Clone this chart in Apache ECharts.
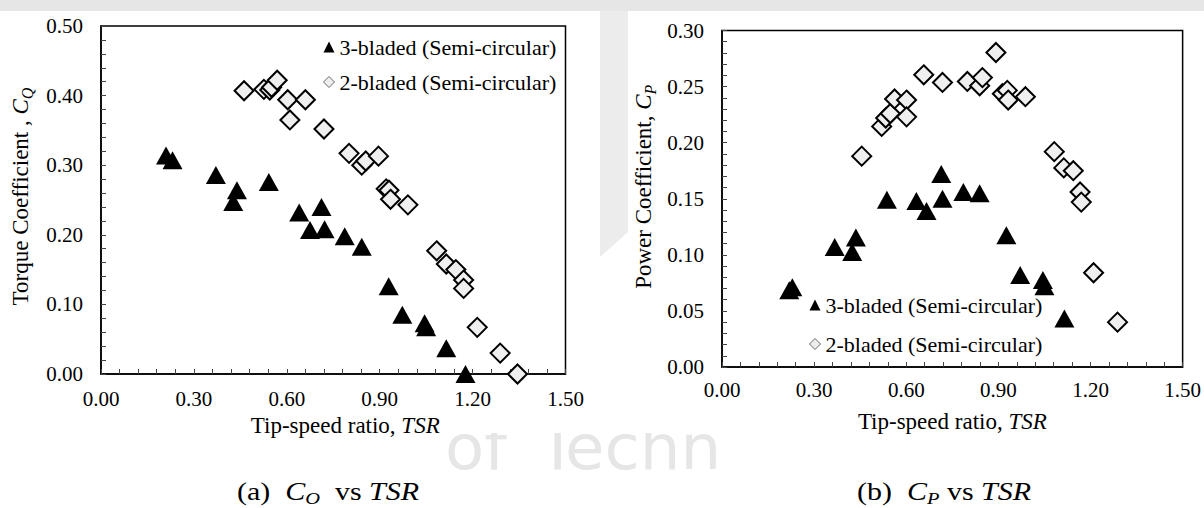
<!DOCTYPE html>
<html>
<head>
<meta charset="utf-8">
<script src="https://cdn.jsdelivr.net/npm/echarts@6/dist/echarts.min.js"></script>
<style>
  html, body { margin: 0; padding: 0; background: #fff; }
  #chart { width: 1204px; height: 508px; }
</style>
</head>
<body>
<div id="chart"></div>
<script>
// Tip-speed ratio / torque coefficient, 3-bladed rotor
const tsr3Q = [0.210, 0.231, 0.371, 0.439, 0.427, 0.542, 0.640, 0.712, 0.675, 0.722, 0.787, 0.842, 0.929, 0.973, 1.045, 1.050, 1.115, 1.177];
const cq3   = [0.314, 0.307, 0.286, 0.264, 0.247, 0.276, 0.232, 0.240, 0.207, 0.208, 0.198, 0.183, 0.126, 0.085, 0.073, 0.067, 0.037, 0.000];

// Tip-speed ratio / torque coefficient, 2-bladed rotor
const tsr2Q = [0.462, 0.526, 0.545, 0.551, 0.569, 0.603, 0.660, 0.610, 0.720, 0.801, 0.842, 0.855, 0.896, 0.921, 0.930, 0.935, 0.991, 1.084, 1.115, 1.146, 1.171, 1.171, 1.215, 1.289, 1.345];
const cq2   = [0.407, 0.409, 0.408, 0.412, 0.422, 0.394, 0.394, 0.365, 0.352, 0.317, 0.300, 0.306, 0.313, 0.266, 0.264, 0.251, 0.243, 0.177, 0.158, 0.150, 0.135, 0.123, 0.067, 0.030, 0.000];

// Tip-speed ratio / power coefficient, 3-bladed rotor
const tsr3P = [0.219, 0.229, 0.367, 0.424, 0.436, 0.537, 0.633, 0.666, 0.714, 0.718, 0.786, 0.839, 0.926, 0.971, 1.045, 1.050, 1.115];
const cp3   = [0.0685, 0.071, 0.107, 0.1026, 0.1154, 0.149, 0.148, 0.139, 0.172, 0.150, 0.156, 0.155, 0.1175, 0.082, 0.0775, 0.072, 0.0433];

// Tip-speed ratio / power coefficient, 2-bladed rotor
const tsr2P = [0.455, 0.520, 0.533, 0.548, 0.562, 0.601, 0.601, 0.657, 0.718, 0.799, 0.839, 0.848, 0.892, 0.913, 0.929, 0.932, 0.988, 1.082, 1.113, 1.144, 1.166, 1.170, 1.210, 1.288];
const cp2   = [0.188, 0.2145, 0.222, 0.226, 0.239, 0.238, 0.223, 0.2605, 0.2537, 0.2546, 0.2507, 0.258, 0.2804, 0.2436, 0.2466, 0.238, 0.241, 0.192, 0.1775, 0.175, 0.156, 0.147, 0.084, 0.040];

const xTicks = [0, 1.5, 0.3];        // min, max, interval
const yTicksQ = [0, 0.5, 0.1];
const yTicksP = [0, 0.3, 0.05];

const NAME3 = '3-bladed (Semi-circular)';
const NAME2 = '2-bladed (Semi-circular)';

const pairs = (xs, ys) => xs.map((x, i) => [x, ys[i]]);

const FONT = 'Liberation Serif';
const INK = '#000';
const FS_TICK = 21;
const FS_TITLE = 23;
const FS_LEGEND = 22;

function valueAxis(gridIndex, range, extra) {
  return Object.assign({
    type: 'value',
    gridIndex: gridIndex,
    min: range[0], max: range[1], interval: range[2],
    axisLine: { show: true, onZero: false, lineStyle: { color: INK, width: 1.5 } },
    axisTick: { show: true, inside: true, length: 5, lineStyle: { color: '#444', width: 1 } },
    minorTick: { show: true, splitNumber: 5, length: 5, lineStyle: { color: '#444', width: 1 } },
    splitLine: { show: false },
    minorSplitLine: { show: false }
  }, extra);
}

function tickLabels(margin) {
  return { color: INK, fontFamily: FONT, fontSize: FS_TICK, margin: margin, formatter: v => v.toFixed(2) };
}

const richTitle = {
  i:   { fontFamily: FONT, fontSize: FS_TITLE, fontStyle: 'italic', color: INK },
  sub: { fontFamily: FONT, fontSize: 16, fontStyle: 'italic', color: INK, padding: [13, 0, 0, 0] }
};

function titleStyle(padding) {
  return { color: INK, fontFamily: FONT, fontSize: FS_TITLE, padding: padding, rich: richTitle };
}

const richCaption = {
  r:   { fontFamily: FONT, fontSize: 25, color: INK },
  i:   { fontFamily: FONT, fontSize: 25, fontStyle: 'italic', color: INK },
  sub: { fontFamily: FONT, fontSize: 17, fontStyle: 'italic', color: INK, padding: [15, 0, 0, 0] }
};

const triStyle = { color: '#000', opacity: 1 };
const diaStyle = { color: '#efefef', borderColor: '#000', borderWidth: 2, opacity: 1 };

function legendAt(left, top, gap) {
  return {
    orient: 'vertical', left: left, top: top, padding: 0,
    itemGap: gap, itemWidth: 11, itemHeight: 11,
    selectedMode: false,
    textStyle: { color: INK, fontFamily: FONT, fontSize: FS_LEGEND },
    data: [
      { name: NAME3, icon: 'triangle', itemStyle: { color: '#000', borderWidth: 0, opacity: 1 } },
      { name: NAME2, icon: 'diamond', itemStyle: { color: '#eeeeee', borderColor: '#666', borderWidth: 1, opacity: 1 } }
    ]
  };
}

const ghost = { fontFamily: 'Liberation Sans Narrow, DejaVu Sans Condensed, sans-serif', fontSize: 62, fill: '#e6e6e6', align: 'left', verticalAlign: 'middle' };

const chart = echarts.init(document.getElementById('chart'), null, { renderer: 'svg' });

chart.setOption({
  backgroundColor: '#fff',
  animation: false,
  grid: [
    { left: 101, top: 26, width: 464.5, height: 348, show: true, borderColor: INK, borderWidth: 1.5, backgroundColor: 'transparent' },
    { left: 722, top: 30.5, width: 463.5, height: 336.5, show: true, borderColor: INK, borderWidth: 1.5, backgroundColor: 'transparent' }
  ],
  xAxis: [
    valueAxis(0, xTicks, {
      name: 'Tip-speed ratio, {i|TSR}', nameLocation: 'middle', nameGap: 35,
      axisLabel: tickLabels(14),
      nameTextStyle: titleStyle([0, 0, 0, 24])
    }),
    valueAxis(1, xTicks, {
      name: 'Tip-speed ratio, {i|TSR}', nameLocation: 'middle', nameGap: 43,
      axisLabel: tickLabels(12),
      nameTextStyle: titleStyle(0)
    })
  ],
  yAxis: [
    valueAxis(0, yTicksQ, {
      name: 'Torque Coefficient , {i|C}{sub|Q}', nameLocation: 'middle', nameRotate: 90, nameGap: 66,
      axisLabel: tickLabels(18),
      nameTextStyle: titleStyle([0, 0, 0, 7])
    }),
    valueAxis(1, yTicksP, {
      name: 'Power Coefficient, {i|C}{sub|P}', nameLocation: 'middle', nameRotate: 90, nameGap: 64,
      axisLabel: tickLabels(18),
      nameTextStyle: titleStyle([0, 0, 0, 24])
    })
  ],
  legend: [legendAt(323, 36, 13), legendAt(809, 294, 17)],
  series: [
    { name: NAME3, type: 'scatter', xAxisIndex: 0, yAxisIndex: 0, symbol: 'triangle', symbolSize: [20, 18], itemStyle: triStyle, data: pairs(tsr3Q, cq3) },
    { name: NAME2, type: 'scatter', xAxisIndex: 0, yAxisIndex: 0, symbol: 'diamond', symbolSize: [19, 19], itemStyle: diaStyle, data: pairs(tsr2Q, cq2) },
    { name: NAME3, type: 'scatter', xAxisIndex: 1, yAxisIndex: 1, symbol: 'triangle', symbolSize: [20, 18], itemStyle: triStyle, data: pairs(tsr3P, cp3) },
    { name: NAME2, type: 'scatter', xAxisIndex: 1, yAxisIndex: 1, symbol: 'diamond', symbolSize: [19, 19], itemStyle: diaStyle, data: pairs(tsr2P, cp2) }
  ],
  graphic: [
    // faint backdrop: strips and lettering showing between the panels
    { type: 'rect', z: -10, silent: true, shape: { x: 0, y: 0, width: 1204, height: 11 }, style: { fill: '#e6e6e6' } },
    { type: 'polygon', z: -10, silent: true, shape: { points: [[600, 11], [628, 11], [628, 232], [600, 257]] }, style: { fill: '#ececec' } },
    { type: 'text', z: -10, silent: true, x: 445, y: 448, scaleX: 1.15, style: Object.assign({ text: 'of' }, ghost) },
    { type: 'text', z: -10, silent: true, x: 538, y: 448, scaleX: 1.15, style: Object.assign({ text: 'Techn' }, ghost) },
    { type: 'rect', z: -9, silent: true, shape: { x: 430, y: 400, width: 360, height: 33 }, style: { fill: '#fff' } },
    // panel captions
    { type: 'text', x: 328, y: 491, scaleX: 1.2, silent: true,
      style: { text: '{r|(a)  }{i|C}{sub|O}{r|  vs }{i|TSR}', rich: richCaption, align: 'center', verticalAlign: 'middle' } },
    { type: 'text', x: 944, y: 491, scaleX: 1.2, silent: true,
      style: { text: '{r|(b)  }{i|C}{sub|P}{r| vs }{i|TSR}', rich: richCaption, align: 'center', verticalAlign: 'middle' } }
  ]
});
</script>
</body>
</html>
